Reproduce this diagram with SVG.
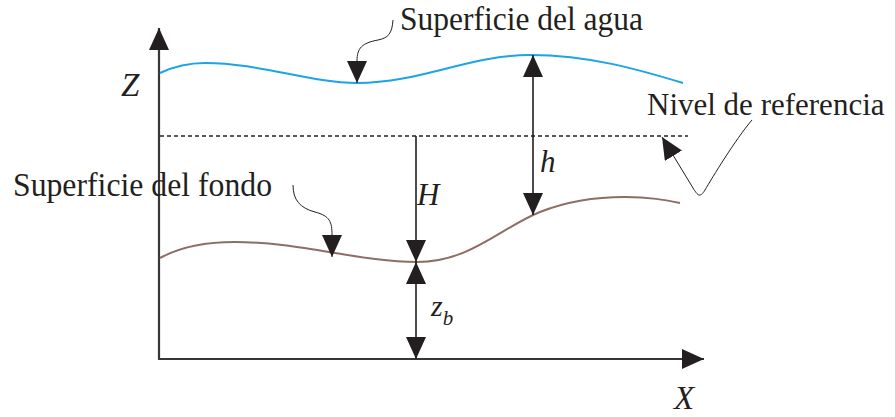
<svg xmlns="http://www.w3.org/2000/svg" width="895" height="417" viewBox="0 0 895 417">
  <style>
    .lbl { font-family: "Liberation Serif", "Times New Roman", serif; font-size: 33px; fill: #231f20; }
    .it { font-family: "Liberation Serif", "Times New Roman", serif; font-style: italic; fill: #231f20; }
    .axis { stroke: #3a3637; stroke-width: 2.2; fill: none; }
    .dim { stroke: #231f20; stroke-width: 1.6; fill: none; }
    .lead { stroke: #231f20; stroke-width: 1; fill: none; }
  </style>
  <defs>
    <marker id="ah" viewBox="0 0 22 20" refX="22" refY="10" markerWidth="22" markerHeight="20" markerUnits="userSpaceOnUse" orient="auto-start-reverse">
      <path d="M0,0 L22,10 L0,20 Z" fill="#231f20"/>
    </marker>
  </defs>

  <g id="axes">
    <path class="axis" d="M159,359 L159,28" marker-end="url(#ah)"/>
    <path class="axis" d="M158,359 L704,359" marker-end="url(#ah)"/>
  </g>

  <g id="water-surface">
    <path d="M160,73 C175,66 190,63 205,63 C260,63 310,83 357,83 C420,83 470,55 530,55 C590,55 640,70 683,83" fill="none" stroke="#1ba4e6" stroke-width="2"/>
  </g>

  <g id="bed-surface">
    <path d="M160,258 C180,247 205,242 235,242 C300,242 360,262 417,262 C470,262 500,228 540,212 C570,200 600,197 625,197 C650,197 665,200 680,203" fill="none" stroke="#8c6e66" stroke-width="2"/>
  </g>

  <g id="reference-level">
    <path d="M160,136 L688,136" fill="none" stroke="#231f20" stroke-width="1.5" stroke-dasharray="4 3"/>
  </g>

  <g id="connectors">
    <path class="dim" d="M533,55 L533,215" marker-start="url(#ah)" marker-end="url(#ah)"/>
    <path class="dim" d="M416,136 L416,262" marker-end="url(#ah)"/>
    <path class="dim" d="M416,262 L416,359" marker-start="url(#ah)" marker-end="url(#ah)"/>
    <path class="lead" d="M393,20 C392,34 388,38 378,40 C362,43 357,48 357,61 L357,83" marker-end="url(#ah)"/>
    <path class="lead" d="M752,120 C735,140 712,178 705,190 C700,198 698,196 693,188 L662,137" marker-end="url(#ah)"/>
    <path class="lead" d="M293,185 C293,200 300,208 315,212 C330,216 332,222 332,235 L332,257" marker-end="url(#ah)"/>
  </g>

  <g id="label-water">
    <text class="lbl" x="400" y="30" textLength="243" lengthAdjust="spacingAndGlyphs">Superficie del agua</text>
  </g>
  <g id="label-reference">
    <text class="lbl" x="647" y="115" font-size="31" style="font-size:31px">Nivel de referencia</text>
  </g>
  <g id="label-bed">
    <text class="lbl" x="13" y="196" textLength="259" lengthAdjust="spacingAndGlyphs">Superficie del fondo</text>
  </g>
  <g id="label-Z">
    <text class="it" x="121" y="96" font-size="33">Z</text>
  </g>
  <g id="label-X">
    <text class="it" x="674" y="409" font-size="33">X</text>
  </g>
  <g id="label-H">
    <text class="it" x="417" y="205" font-size="31">H</text>
  </g>
  <g id="label-h">
    <text class="it" x="540" y="172" font-size="31">h</text>
  </g>
  <g id="label-zb">
    <text class="it" x="431" y="316" font-size="30">z<tspan font-size="21" dy="9">b</tspan></text>
  </g>
</svg>
